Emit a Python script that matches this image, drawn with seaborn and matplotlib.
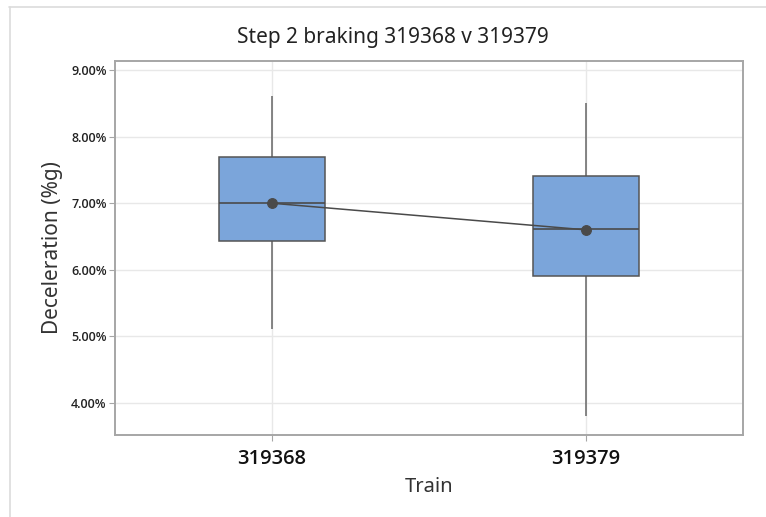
import matplotlib
matplotlib.use("Agg")
import matplotlib.pyplot as plt
from matplotlib.lines import Line2D
import pandas as pd
import seaborn as sns

# Five-number summaries per train (min, Q1, median, Q3, max), in %g
trains = ["319368", "319379"]
summary_319368 = [5.11, 6.43, 7.00, 7.69, 8.61]
summary_319379 = [3.80, 5.91, 6.61, 7.41, 8.51]
means = [7.00, 6.60]
y_ticks = [4, 5, 6, 7, 8, 9]
y_tick_labels = ["4.00%", "5.00%", "6.00%", "7.00%", "8.00%", "9.00%"]

box_df = pd.DataFrame({
    "Train": [trains[0]] * len(summary_319368) + [trains[1]] * len(summary_319379),
    "Deceleration": summary_319368 + summary_319379,
})
mean_df = pd.DataFrame({"Train": trains, "Mean": means})

sns.set_theme(style="white")
plt.rcParams["font.family"] = ["Noto Sans", "DejaVu Sans"]

fig = plt.figure(figsize=(7.66, 5.17), dpi=100)
ax = fig.add_axes([115 / 766, 82 / 517, 628 / 766, 374.3 / 517])

edge = "#555555"
sns.boxplot(
    data=box_df, x="Train", y="Deceleration", order=trains, ax=ax,
    whis=(0, 100), width=0.335, color="#7BA5DA", saturation=1,
    linecolor=edge, linewidth=1.1, showcaps=False, fliersize=0,
    boxprops=dict(facecolor="#7BA5DA", edgecolor=edge, zorder=3),
    whiskerprops=dict(color="#666666", zorder=2),
    medianprops=dict(color="#4a4a4a", linewidth=1.2, zorder=4),
)
sns.pointplot(
    data=mean_df, x="Train", y="Mean", order=trains, ax=ax,
    color="#4a4a4a", markers="o", markersize=7, linewidth=1.1,
    errorbar=None,
)
for ln in ax.lines[-1:]:
    ln.set_zorder(6)
for coll in ax.collections:
    coll.set_zorder(7)

ax.set_xlim(-0.5, 1.5)
ax.set_ylim(3.52, 9.14)

tick_font = ["Open Sans", "DejaVu Sans"]
ax.set_yticks(y_ticks)
ax.set_yticklabels(y_tick_labels, family=tick_font, fontweight="semibold",
                   fontsize=9, color="#222222")
ax.set_xticks(range(len(trains)))
ax.set_xticklabels(trains, family=tick_font, fontweight="semibold",
                   fontsize=14.5, color="#111111")

ax.grid(True, axis="both", color="#e8e8e8", linewidth=1.0, zorder=0)
ax.set_axisbelow(True)
for s in ax.spines.values():
    s.set_color("#a6a6a6")
    s.set_linewidth(1.4)

ax.tick_params(axis="y", which="major", left=True, length=4, width=0.8,
               color="#a6a6a6", pad=2)
ax.tick_params(axis="x", which="major", bottom=True, length=4, width=0.8,
               color="#a6a6a6", pad=6)

ax.set_xlabel("Train", fontsize=14.5, color="#333333", labelpad=6)
ax.set_ylabel("Deceleration (%g)", fontsize=15, color="#333333", labelpad=6)

fig.text(393 / 766, 1 - 37 / 517, "Step 2 braking 319368 v 319379",
         ha="center", va="center", fontsize=15, color="#222222")

# light frame along the top and left edges
fig.add_artist(Line2D([9 / 766, 1], [1 - 7 / 517, 1 - 7 / 517],
                      transform=fig.transFigure, color="#dcdcdc", lw=1.2))
fig.add_artist(Line2D([9.5 / 766, 9.5 / 766], [0, 1 - 7 / 517],
                      transform=fig.transFigure, color="#dcdcdc", lw=1.2))

fig.savefig("out.png", dpi=100, facecolor="white")
